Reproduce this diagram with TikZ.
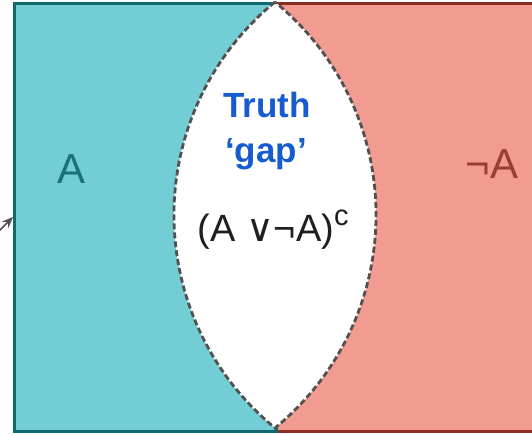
\documentclass[tikz,border=0pt]{standalone}
\usepackage{fontspec}
\setmainfont{Liberation Sans}
\newfontfamily\symfont{DejaVu Sans}
\usepackage{tikz}
\usetikzlibrary{arrows.meta,positioning}
\definecolor{SetTeal}{RGB}{115,205,212}
\definecolor{SetTealDark}{RGB}{14,104,110}
\definecolor{SetRed}{RGB}{242,156,145}
\definecolor{SetRedDark}{RGB}{139,45,33}
\definecolor{GapBlue}{RGB}{22,92,208}
\definecolor{EdgeGrey}{RGB}{85,80,80}

\begin{document}
\begin{tikzpicture}[x=1pt, y=-1pt,
    every node/.style={align=center, inner sep=0pt},
    region/.style={rectangle, line width=3pt, anchor=north west, minimum height=428pt},
    lens/.style={fill=white, draw=EdgeGrey, line width=2.8pt, dash pattern=on 6pt off 3pt},
    setlbl/.style={font=\fontsize{42}{42}\selectfont, anchor=base},
    gaplbl/.style={font=\bfseries\fontsize{35}{35}\selectfont, text=GapBlue, anchor=base},
    pointer/.style={-{Stealth[length=11pt, width=9pt]}, line width=1.6pt, color=EdgeGrey}
  ]
  \useasboundingbox (0,0) rectangle (532,434);

  % Regions
  \node[region, draw=SetRedDark, fill=SetRed, minimum width=270pt] (setNotA) at (275,1.5) {};
  \node[region, draw=SetTealDark, fill=SetTeal, minimum width=262pt] (setA) at (13,1.5) {};

  % Gap between A and not A
  \path[lens] (275,2) arc[start angle=230.76, end angle=129.24, radius=275]
    arc[start angle=50.76, end angle=-50.76, radius=275] -- cycle;

  % Labels
  \node[setlbl, text=SetTealDark!90!SetTeal] (lblA) at (72,183) {A};
  \node[setlbl, text=SetRedDark!85!SetRed] (lblNotA) at (492,178) {¬A};
  \node[gaplbl] (truth) at (267,117) {Truth};
  \node[gaplbl] (gap) at (266,162) {‘gap’};
  \node[anchor=base, font=\fontsize{38}{38}\selectfont, text=black!88] (compl) at (273,241)
    {(A {\symfont∨}¬A)\raisebox{0.42em}{\fontsize{29}{29}\selectfont c}};

  % Pointer
  \coordinate (tail) at (-6,236);
  \draw[pointer] (tail) -- (setA.west);
\end{tikzpicture}
\end{document}
